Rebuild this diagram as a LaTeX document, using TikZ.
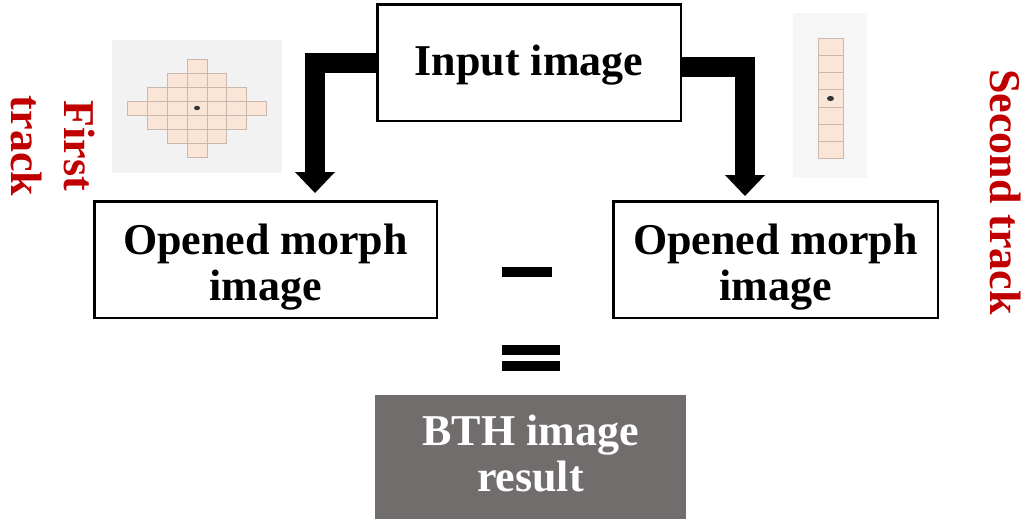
\documentclass[tikz,border=0pt]{standalone}
\usepackage{fontspec}
\setmainfont{Liberation Serif}
\usetikzlibrary{arrows.meta,calc}

\definecolor{trackred}{HTML}{C00000}
\definecolor{panelgray}{HTML}{F2F2F2}
\definecolor{cellfill}{HTML}{FBE5D6}
\definecolor{celledge}{HTML}{C8B8AE}
\definecolor{resultgray}{HTML}{716D6C}

\newcommand\boxfont{\bfseries\fontsize{44}{46}\selectfont}
\newcommand\trackfont{\bfseries\fontsize{44}{53}\selectfont}

\begin{document}
\begin{tikzpicture}[x=1pt,y=-1pt,
  stagebox/.style={draw=black, line width=2.5pt, inner sep=0pt,
    minimum height=116.5pt},
  resultbox/.style={fill=resultgray, inner sep=0pt,
    minimum width=311pt, minimum height=124pt},
  boxtext/.style={inner sep=0pt, align=center, font=\boxfont},
  tracklabel/.style={rotate=-90, text=trackred, align=center, inner sep=0pt,
    font=\trackfont},
  flowarrow/.style={line width=20pt,
    -{Triangle[width=40pt,length=21pt,line width=0pt]}},
  opbar/.style={fill=black, inner sep=0pt},
  cell/.style={fill=cellfill, draw=celledge, line width=0.9pt},
  dot/.style={fill=black!80}]
\useasboundingbox (0,0) rectangle (1032,523);

% structuring element of the first track: diamond of cells
\fill[panelgray] (112,40) rectangle (282,173);
\foreach \i in {-3,...,3}{
  \foreach \j in {-3,...,3}{
    \pgfmathtruncatemacro\dist{abs(\i)+abs(\j)}
    \ifnum\dist<4
      \draw[cell] ({197+19.9*\i-9.95},{108+14*\j-7}) rectangle ++(19.9,14);
    \fi
  }
}
\fill[dot] (197,108) ellipse (3pt and 2.2pt);

% structuring element of the second track: vertical line of cells
\fill[panelgray!70!white] (793,13) rectangle (867,178);
\foreach \j in {-3,...,3}{
  \draw[cell] (818,{98.5+17.14*\j-8.57}) rectangle ++(25,17.14);
}
\fill[dot] (830.5,98.5) ellipse (3.5pt and 2.6pt);

% stages
\node[stagebox, minimum width=303.5pt] (input) at (529,62.5) {};
\node[stagebox, minimum width=342.5pt] (open1) at (265.5,259.5) {};
\node[stagebox, minimum width=324.5pt] (open2) at (775.5,259.5) {};
\node[resultbox] (bth) at (530.5,457) {};

\node[boxtext] (inputtext) at ($(input.center)+(0,2.5)$) {Input image};
\node[boxtext] (open1text) at ($(open1.center)+(0,8)$) {Opened morph\\image};
\node[boxtext] (open2text) at ($(open2.center)+(0,8)$) {Opened morph\\image};
\node[boxtext, text=white] (bthtext) at ($(bth.center)+(0,-3.5)$) {BTH image\\result};

% operators
\node[opbar, minimum width=50pt, minimum height=10pt] (minus) at (527,272) {};
\node[opbar, minimum width=58pt, minimum height=10pt] (eqtop) at (531,350) {};
\node[opbar, minimum width=58pt, minimum height=10pt] (eqbot) at (531,366) {};

% track labels
\node[tracklabel] (firstlabel) at (53,146) {First\\track};
\node[tracklabel] (secondlabel) at (1006,192) {Second track};

% flow from the input image to both tracks
\draw[flowarrow] (input.west) -| ($(open1.north)+(49.5,-7)$);
\draw[flowarrow] ($(input.east)+(0,4.5)$) -| ($(open2.north)+(-30.5,-4)$);
\end{tikzpicture}
\end{document}
